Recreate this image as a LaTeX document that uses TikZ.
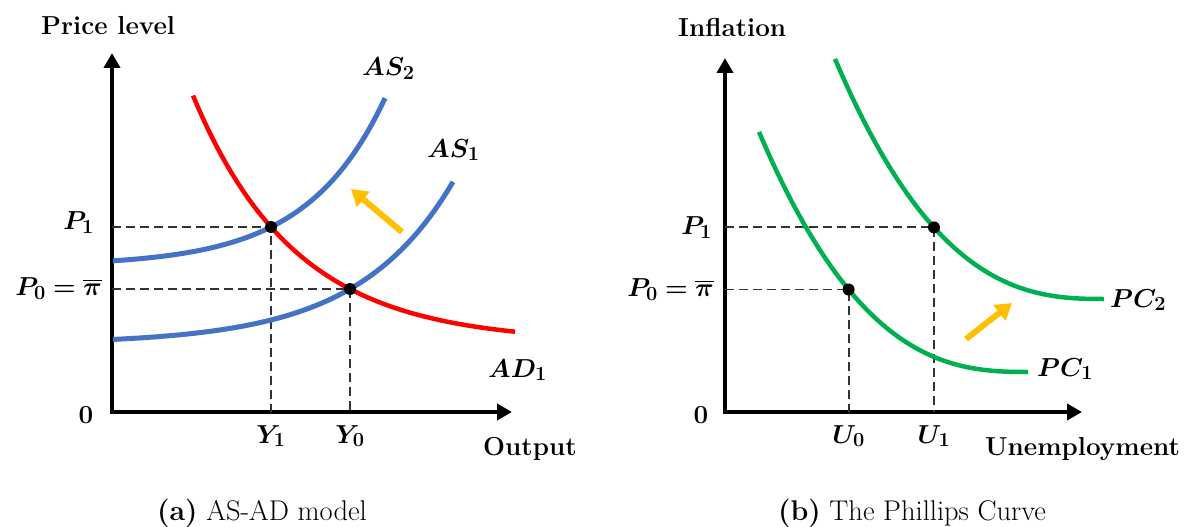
\RequirePackage{fix-cm}
\documentclass[tikz,border=0pt]{standalone}
\usepackage{amsmath,bm}
\usepackage{fontspec}
\usepackage{tikz}
\usetikzlibrary{arrows.meta,positioning}
\DeclareMathSizes{26}{26}{20}{16}
\definecolor{asblue}{HTML}{4472C4}
\definecolor{adred}{HTML}{FF0000}
\definecolor{pcgreen}{HTML}{00B050}
\definecolor{movegold}{HTML}{FFC000}

\begin{document}
\begin{tikzpicture}[x=1pt, y=-1pt,
  axis/.style={line width=4.5pt, {Triangle[length=15pt,width=16pt]}-{Triangle[length=15pt,width=16pt]}},
  guide/.style={draw=black!80, line width=1.9pt, dash pattern=on 9pt off 5pt},
  ascurve/.style={draw=asblue, line width=5pt},
  adcurve/.style={draw=adred, line width=4.5pt},
  pccurve/.style={draw=pcgreen, line width=4.5pt},
  movearrow/.style={draw=movegold, line width=6pt, -{Triangle[length=16pt,width=19pt]}},
  lbl/.style={font=\fontsize{26}{30}\selectfont\bfseries, inner sep=0pt},
  captext/.style={font=\fontsize{28.5}{32}\selectfont, inner sep=0pt, anchor=base}
]
\useasboundingbox (0,0) rectangle (1192,527);

% (a) AS-AD model
\coordinate (Oa) at (112,412);
\coordinate (Ya) at (112,53);
\coordinate (Xa) at (512,412);
\coordinate (E1a) at (271,227);
\coordinate (E0a) at (350,289);
\draw[axis] (Ya) |- (Xa);
\draw[guide] (E1a -| Oa) -- (E1a) -- (E1a |- Oa);
\draw[guide] (E0a -| Oa) -- (E0a) -- (E0a |- Oa);
\draw[ascurve] plot[domain=113:453, samples=60] (\x, {344-24*exp(0.0105*(\x-271))});
\draw[ascurve] plot[domain=113:385, samples=60] (\x, {266-39*exp(0.0128*(\x-271))});
\draw[adcurve] plot[domain=193:515, samples=60] (\x, {342.4-53.4*exp(-0.00975*(\x-350))});
\fill (E1a) circle (6pt);
\fill (E0a) circle (6pt);
\coordinate (ga1) at (402,232);
\coordinate (ga2) at (351,189);
\draw[movearrow] (ga1) -- (ga2);

\node[lbl, anchor=base west] (pricelbl) at (41,35) {Price level};
\node[lbl, anchor=base west] (outputlbl) at (483,455) {Output};
\node[lbl] (zeroa) at (86,415.5) {0};
\node[lbl, left=18pt of {E1a -| Oa}, yshift=4pt] (p1a) {$\bm{P_1}$};
\node[lbl, left=10pt of {E0a -| Oa}] (p0a) {$\bm{P_0=\overline{\pi}}$};
\node[lbl, below=13pt of {E1a |- Oa}] (y1) {$\bm{Y_1}$};
\node[lbl, below=13pt of {E0a |- Oa}] (y0) {$\bm{Y_0}$};
\node[lbl, anchor=base west] (as2lbl) at (362,76) {$\bm{AS_2}$};
\node[lbl, anchor=base west] (as1lbl) at (427,157) {$\bm{AS_1}$};
\node[lbl, anchor=base west] (ad1lbl) at (488,377) {$\bm{AD_1}$};
\node[captext] (capa) at (262,520) {\textbf{(a)} AS-AD model};

% (b) The Phillips Curve
\coordinate (Ob) at (725,412);
\coordinate (Yb) at (725,58);
\coordinate (Xb) at (1082,412);
\coordinate (E0b) at (848.6,289.5);
\coordinate (E1b) at (934,227.4);
\draw[axis] (Yb) |- (Xb);
\draw[guide] (E1b -| Ob) -- (E1b) -- (E1b |- Ob);
\draw[guide] (E0b -| Ob) -- (E0b) -- (E0b |- Ob);
\draw[pccurve] plot[domain=759:1028, samples=60] (\x, {372-17.27*((1029-\x)/100)^2.65});
\draw[pccurve] plot[domain=835:1104, samples=60] (\x, {299-17.27*((1105-\x)/100)^2.65});
\fill (E1b) circle (6pt);
\fill (E0b) circle (6pt);
\coordinate (gb1) at (966,339);
\coordinate (gb2) at (1012,303);
\draw[movearrow] (gb1) -- (gb2);

\node[lbl, anchor=base west] (inflbl) at (678,37) {Inflation};
\node[lbl, anchor=base west] (unemplbl) at (985,455) {Unemployment};
\node[lbl] (zerob) at (701,415.5) {0};
\node[lbl, left=13pt of {E1b -| Ob}] (p1b) {$\bm{P_1}$};
\node[lbl, left=11pt of {E0b -| Ob}] (p0b) {$\bm{P_0=\overline{\pi}}$};
\node[lbl, below=13pt of {E0b |- Ob}] (u0) {$\bm{U_0}$};
\node[lbl, below=13pt of {E1b |- Ob}] (u1) {$\bm{U_1}$};
\node[lbl, anchor=base west] (pc2lbl) at (1110,307) {$\bm{PC_2}$};
\node[lbl, anchor=base west] (pc1lbl) at (1037,376) {$\bm{PC_1}$};
\node[captext] (capb) at (912,520) {\textbf{(b)} The Phillips Curve};
\end{tikzpicture}
\end{document}
